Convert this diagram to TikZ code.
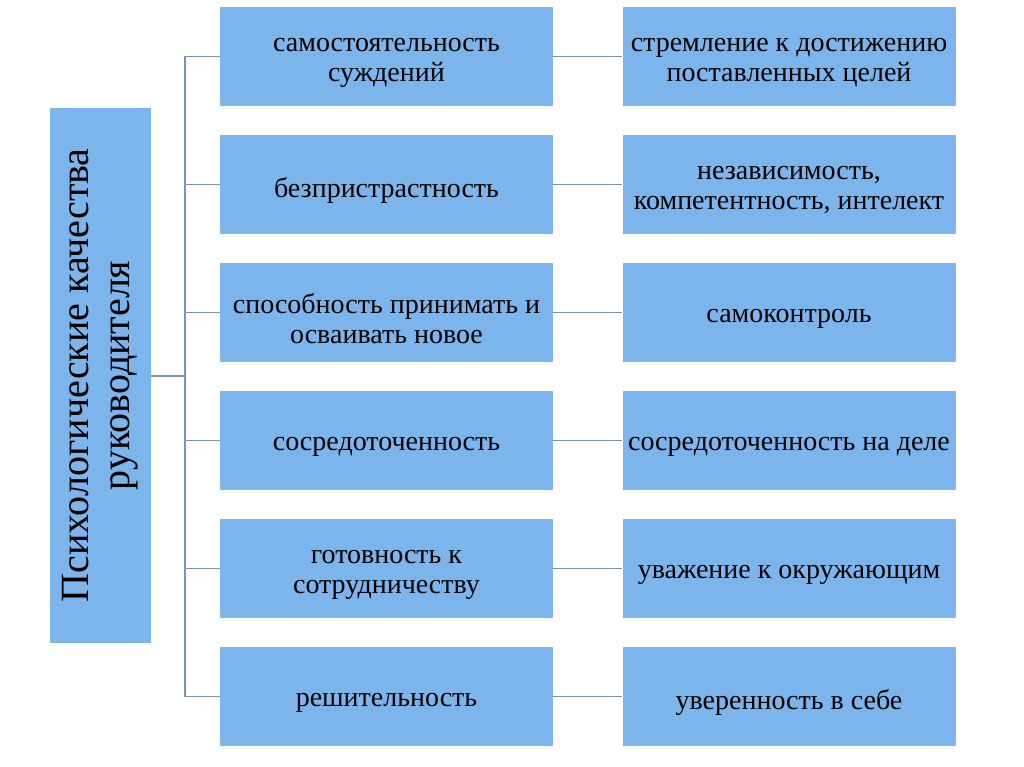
\documentclass[tikz,border=0pt]{standalone}
\usepackage{fontspec}
\setmainfont{Liberation Serif}
\definecolor{boxblue}{RGB}{124,180,236}
\definecolor{linkgray}{RGB}{122,146,186}
\tikzset{
	qbox/.style={fill=boxblue,minimum width=333bp,minimum height=99bp,inner sep=0pt},
	qtext/.style={align=center,inner sep=0pt,font=\fontsize{28bp}{30bp}\selectfont},
	link/.style={draw=linkgray,line width=1.5bp}
}
\begin{document}
\begin{tikzpicture}[x=1bp,y=-1bp,line join=round]
	\useasboundingbox (0,0) rectangle (1024,767);
	\node[fill=boxblue,minimum width=101bp,minimum height=535bp,inner sep=0pt] (lft) at (100.5,375.5) {};
	\node[rotate=90,align=center,font=\fontsize{40bp}{41bp}\selectfont] (lfttxt) at (lft) {Психологические качества\\руководителя};
	\foreach \i/\a/\b in {1/{самостоятельность\\суждений}/{стремление к достижению\\поставленных целей},
		2/{безпристрастность}/{независимость,\\компетентность, интелект},
		3/{способность принимать и\\осваивать новое}/{самоконтроль},
		4/{сосредоточенность}/{сосредоточенность на деле},
		5/{готовность к\\сотрудничеству}/{уважение к окружающим},
		6/{решительность}/{уверенность в себе}}{
		\node[qbox] (m\i) at (386.5,{56.5+128*(\i-1)}) {};
		\node[qbox] (r\i) at (789,{56.5+128*(\i-1)}) {};
		\node[qtext] (mt\i) at ([yshift=-6bp]m\i.center) {\a};
		\node[qtext] (rt\i) at ([yshift=-6bp]r\i.center) {\b};
	}
	\coordinate (tr) at (185,376);
	\draw[link] (lft.east |- tr) -- (tr);
	\draw[link] (m1.west -| tr) -- (m6.west -| tr);
	\foreach \i in {1,...,6}{
		\draw[link] (m\i.west -| tr) -- (m\i.west);
		\draw[link] (m\i.east) -- (r\i.west);
	}
\end{tikzpicture}
\end{document}
